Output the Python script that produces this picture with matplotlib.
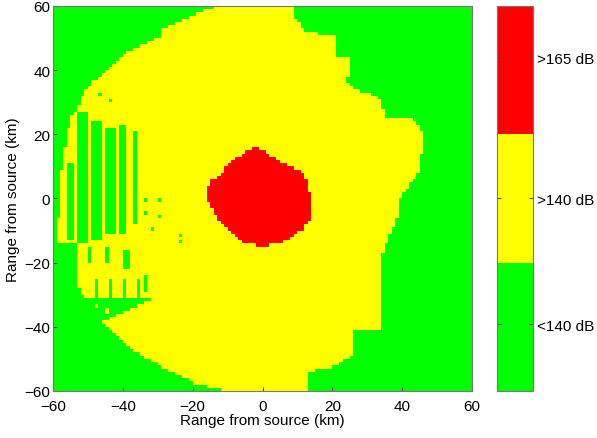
import numpy as np
import matplotlib
matplotlib.use("Agg")
import matplotlib.pyplot as plt
from matplotlib.colors import ListedColormap
from matplotlib.path import Path

# outline of the >140 dB zone (km, relative to the source)
outer_x = [-12.2, 8.4, 9.3, 11.6, 15.0, 20.8, 20.8, 25.6, 25.1, 24.2, 28.8, 34.2,
           34.8, 42.2, 44.5, 46.0, 45.1, 44.2, 41.4, 39.4, 38.8, 37.4, 35.9, 34.5,
           34.2, 25.9, 25.9, 23.1, 20.2, 16.5, 12.7, 12.7, -11.6, -11.6, -17.9,
           -25.6, -33.1, -38.8, -42.8, -46.0, -38.0, -31.0, -50.8, -53.7, -58.0,
           -59.0, -58.0, -57.4, -55.1, -52.3, -51.4, -48.5, -44.5, -38.8, -33.1,
           -29.4, -28.5, -25.6, -21.3, -15.9]
outer_y = [60.0, 60.0, 56.6, 52.8, 51.6, 50.6, 44.1, 44.1, 42.5, 35.7, 33.2, 31.0,
           25.4, 25.4, 23.2, 20.1, 9.2, 7.6, 3.0, -0.2, -4.8, -9.5, -12.6, -17.3,
           -41.3, -41.3, -49.1, -50.6, -52.5, -53.1, -54.1, -60.0, -60.0, -58.8,
           -58.4, -54.1, -50.0, -46.0, -41.6, -38.5, -34.4, -30.9, -30.9, -26.7,
           -22.0, -12.6, -0.2, 10.8, 24.8, 29.5, 32.6, 36.6, 39.7, 45.7, 48.2,
           50.3, 52.8, 54.4, 56.6, 59.1]

# outline of the >165 dB zone
inner_x = [-1.6, 1.3, 4.4, 7.9, 11.6, 13.0, 13.6, 14.5, 14.2, 11.6, 7.9, 4.2,
           -0.7, -5.6, -9.3, -12.2, -14.2, -16.5, -15.0, -11.3, -9.3, -5.6]
inner_y = [16.1, 14.5, 11.7, 10.1, 8.3, 5.1, 0.8, -2.3, -6.4, -9.5, -12.6, -14.2,
           -14.8, -13.6, -10.4, -7.3, -3.3, 0.8, 5.1, 8.3, 11.4, 13.9]

# low level stripes / patches inside the outline: (x0, x1, y0, y1)
low_patches = [
    (-56.0, -54.3, -12.6, 10.8),
    (-52.6, -50.5, -14.2, 27.0),
    (-48.5, -46.5, -12.6, 24.2),
    (-44.5, -42.5, -11.1, 22.3),
    (-41.1, -39.1, -11.1, 22.6),
    (-37.4, -35.7, -7.9, 20.7),
    (-60.0, -53.0, -31.0, -14.0),
    (-48.0, -47.0, -30.5, -25.0),
    (-44.2, -43.2, -30.5, -25.0),
    (-40.4, -39.4, -30.5, -25.0),
    (-36.4, -35.4, -30.5, -25.0),
    (-33.6, -32.6, -29.0, -24.0),
    (-50.0, -49.0, -20.0, -15.0),
    (-45.0, -44.0, -20.0, -15.0),
    (-39.5, -38.5, -22.0, -16.0),
]
low_specks_x = [-33.7, -29.9, -33.1, -29.4, -31.4, -23.6, -23.1, -46.5, -43.1]
low_specks_y = [-0.8, -0.8, -4.8, -5.8, -9.5, -11.7, -13.2, 32.6, 30.1]
mid_specks_x = [-47.4, -44.5, -41.7]
mid_specks_y = [-33.5, -35.0, -36.5]

level_names = ["<140 dB", ">140 dB", ">165 dB"]
level_ticks = [0.52, 1.5, 2.6]
colors = ["#00ff00", "#ffff00", "#ff0000"]

# 1 km grid
edges = np.arange(-60, 61, 1.0)
centers = edges[:-1] + 0.5
gx, gy = np.meshgrid(centers, centers)
pts = np.column_stack([gx.ravel(), gy.ravel()])

level = np.zeros(gx.shape)
outer = Path(np.column_stack([outer_x, outer_y])).contains_points(pts)
level[outer.reshape(gx.shape)] = 1
for x0, x1, y0, y1 in low_patches:
    level[(gx >= x0) & (gx <= x1) & (gy >= y0) & (gy <= y1)] = 0
for sx, sy in zip(low_specks_x, low_specks_y):
    level[(np.abs(gx - sx) < 0.6) & (np.abs(gy - sy) < 0.6)] = 0
for sx, sy in zip(mid_specks_x, mid_specks_y):
    level[(np.abs(gx - sx) < 0.6) & (np.abs(gy - sy) < 0.6)] = 1
inner = Path(np.column_stack([inner_x, inner_y])).contains_points(pts)
level[inner.reshape(gx.shape)] = 2

plt.rcParams["font.family"] = ["Liberation Sans", "DejaVu Sans"]
plt.rcParams["font.size"] = 11

fig = plt.figure(figsize=(5.97, 4.39), dpi=100)
ax = fig.add_axes([0.0888, 0.1071, 0.7018, 0.877])
cmap = ListedColormap(colors)
mesh = ax.pcolormesh(edges, edges, level, cmap=cmap, vmin=0, vmax=3)
ax.set_xlim(-60, 60)
ax.set_ylim(-60, 60)
ax.set_xticks(np.arange(-60, 61, 20))
ax.set_yticks(np.arange(-60, 61, 20))
ax.set_xlabel("Range from source (km)", labelpad=0)
ax.set_ylabel("Range from source (km)", labelpad=3)
ax.tick_params(direction="in", length=3, colors="#444444", labelcolor="black")
ax.tick_params(axis="x", pad=6)
ax.tick_params(axis="y", pad=2)
for s in ax.spines.values():
    s.set_color("#777777")
    s.set_linewidth(0.8)

cax = fig.add_axes([0.8325, 0.1071, 0.0603, 0.877])
cb = fig.colorbar(mesh, cax=cax, ticks=level_ticks)
cb.ax.set_yticklabels(level_names)
cb.ax.tick_params(direction="in", length=3, left=True, right=True, colors="#444444",
                  labelcolor="black", pad=3)
cb.outline.set_edgecolor("#777777")
cb.outline.set_linewidth(0.8)

fig.savefig("out.png", dpi=100)
